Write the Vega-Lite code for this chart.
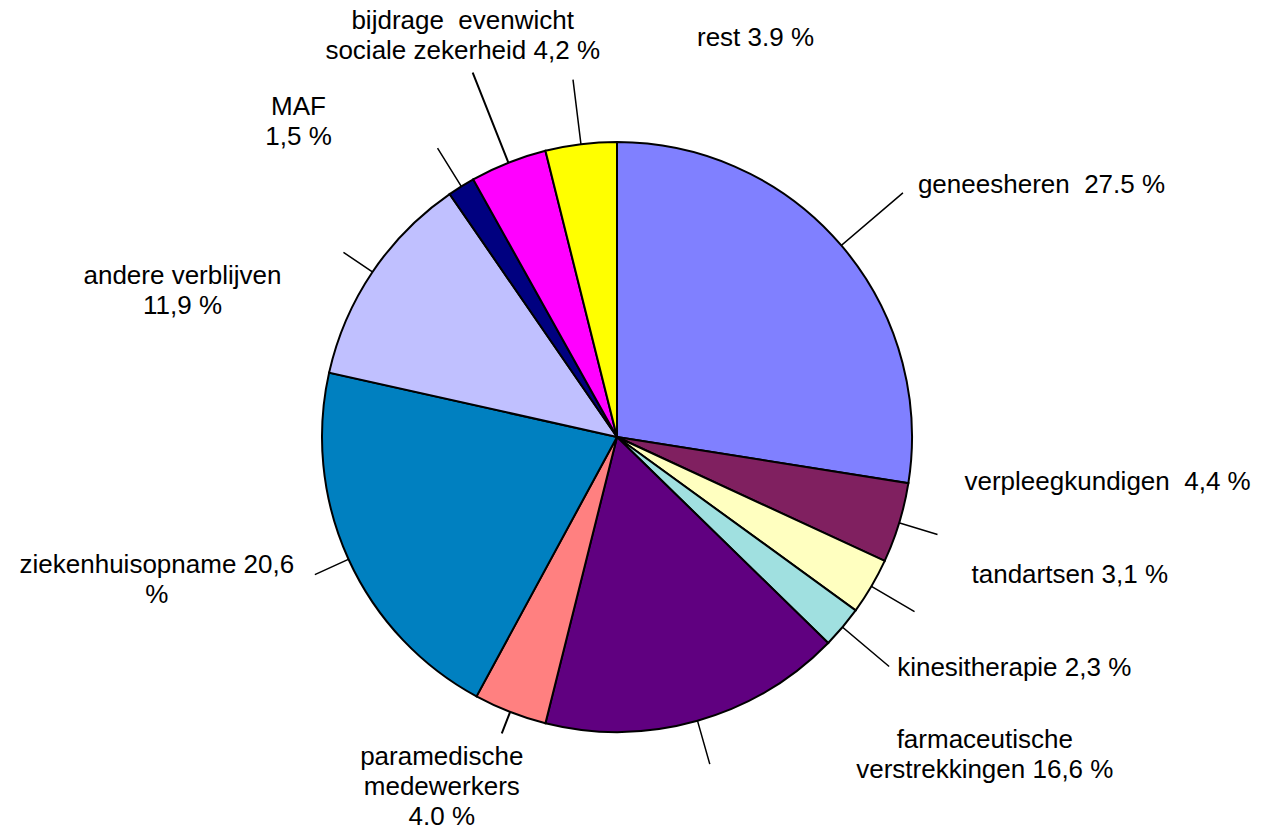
{
  "$schema": "https://vega.github.io/schema/vega-lite/v6.json",
  "width": 590,
  "height": 590,
  "autosize": {"type": "none"},
  "padding": {"left": 322, "top": 142, "right": 353, "bottom": 101},
  "background": "white",
  "config": {
    "view": {"stroke": null},
    "text": {"font": "Liberation Sans", "fontSize": 26, "lineHeight": 30, "lineBreak": "\n", "baseline": "alphabetic", "fill": "black"}
  },
  "data": {
    "values": [
      {"cat": "geneesheren", "value": 27.5, "order": 1, "label": "geneesheren\u00a0 27.5 %"},
      {"cat": "verpleegkundigen", "value": 4.4, "order": 2, "label": "verpleegkundigen\u00a0 4,4 %"},
      {"cat": "tandartsen", "value": 3.1, "order": 3, "label": "tandartsen 3,1 %"},
      {"cat": "kinesitherapie", "value": 2.3, "order": 4, "label": "kinesitherapie 2,3 %"},
      {"cat": "farmaceutische verstrekkingen", "value": 16.6, "order": 5, "label": "farmaceutische\nverstrekkingen 16,6 %"},
      {"cat": "paramedische medewerkers", "value": 4.0, "order": 6, "label": "paramedische\nmedewerkers\n4.0 %"},
      {"cat": "ziekenhuisopname", "value": 20.6, "order": 7, "label": "ziekenhuisopname 20,6\n%"},
      {"cat": "andere verblijven", "value": 11.9, "order": 8, "label": "andere verblijven\n11,9 %"},
      {"cat": "MAF", "value": 1.5, "order": 9, "label": "MAF\n1,5 %"},
      {"cat": "bijdrage evenwicht sociale zekerheid", "value": 4.2, "order": 10, "label": "bijdrage\u00a0 evenwicht\nsociale zekerheid 4,2 %"},
      {"cat": "rest", "value": 3.9, "order": 11, "label": "rest 3.9 %"}
    ]
  },
  "encoding": {
    "theta": {"field": "value", "type": "quantitative", "stack": true},
    "order": {"field": "order", "type": "quantitative"}
  },
  "layer": [
    {"mark": {"type": "arc", "radius": 376, "padAngle": 2, "fill": "transparent", "stroke": "black", "strokeWidth": 1.5},
     "encoding": {"strokeOpacity": {"condition": {"test": "datum.cat === 'geneesheren'", "value": 1}, "value": 0}}},
    {"mark": {"type": "arc", "radius": 335, "padAngle": 2, "fill": "transparent", "stroke": "black", "strokeWidth": 1.5},
     "encoding": {"strokeOpacity": {"condition": {"test": "datum.cat === 'verpleegkundigen'", "value": 1}, "value": 0}}},
    {"mark": {"type": "arc", "radius": 345, "padAngle": 2, "fill": "transparent", "stroke": "black", "strokeWidth": 1.5},
     "encoding": {"strokeOpacity": {"condition": {"test": "datum.cat === 'tandartsen'", "value": 1}, "value": 0}}},
    {"mark": {"type": "arc", "radius": 356, "padAngle": 2, "fill": "transparent", "stroke": "black", "strokeWidth": 1.5},
     "encoding": {"strokeOpacity": {"condition": {"test": "datum.cat === 'kinesitherapie'", "value": 1}, "value": 0}}},
    {"mark": {"type": "arc", "radius": 340, "padAngle": 2, "fill": "transparent", "stroke": "black", "strokeWidth": 1.5},
     "encoding": {"strokeOpacity": {"condition": {"test": "datum.cat === 'farmaceutische verstrekkingen'", "value": 1}, "value": 0}}},
    {"mark": {"type": "arc", "radius": 318, "padAngle": 2, "fill": "transparent", "stroke": "black", "strokeWidth": 2},
     "encoding": {"strokeOpacity": {"condition": {"test": "datum.cat === 'paramedische medewerkers'", "value": 1}, "value": 0}}},
    {"mark": {"type": "arc", "radius": 332, "padAngle": 2, "fill": "transparent", "stroke": "black", "strokeWidth": 1.5},
     "encoding": {"strokeOpacity": {"condition": {"test": "datum.cat === 'ziekenhuisopname'", "value": 1}, "value": 0}}},
    {"mark": {"type": "arc", "radius": 330, "padAngle": 2, "fill": "transparent", "stroke": "black", "strokeWidth": 1.5},
     "encoding": {"strokeOpacity": {"condition": {"test": "datum.cat === 'andere verblijven'", "value": 1}, "value": 0}}},
    {"mark": {"type": "arc", "radius": 340, "padAngle": 2, "fill": "transparent", "stroke": "black", "strokeWidth": 1.5},
     "encoding": {"strokeOpacity": {"condition": {"test": "datum.cat === 'MAF'", "value": 1}, "value": 0}}},
    {"mark": {"type": "arc", "radius": 392, "padAngle": 2, "fill": "transparent", "stroke": "black", "strokeWidth": 2},
     "encoding": {"strokeOpacity": {"condition": {"test": "datum.cat === 'bijdrage evenwicht sociale zekerheid'", "value": 1}, "value": 0}}},
    {"mark": {"type": "arc", "radius": 360, "padAngle": 2, "fill": "transparent", "stroke": "black", "strokeWidth": 1.5},
     "encoding": {"strokeOpacity": {"condition": {"test": "datum.cat === 'rest'", "value": 1}, "value": 0}}},
    {"mark": {"type": "arc", "stroke": "black", "strokeWidth": 2},
     "encoding": {"color": {"field": "cat", "type": "nominal", "legend": null,
       "scale": {"domain": ["geneesheren", "verpleegkundigen", "tandartsen", "kinesitherapie", "farmaceutische verstrekkingen", "paramedische medewerkers", "ziekenhuisopname", "andere verblijven", "MAF", "bijdrage evenwicht sociale zekerheid", "rest"],
                 "range": ["#8080FF", "#802060", "#FFFFC0", "#A0E0E0", "#600080", "#FF8080", "#0080C0", "#C0C0FF", "#000080", "#FF00FF", "#FFFF00"]}}}},
    {"mark": {"type": "text", "radius": 376, "align": "left", "dx": 15, "dy": 0},
     "encoding": {"text": {"condition": {"test": "datum.cat === 'geneesheren'", "field": "label"}, "value": ""}}},
    {"mark": {"type": "text", "radius": 335, "align": "left", "dx": 27, "dy": -44},
     "encoding": {"text": {"condition": {"test": "datum.cat === 'verpleegkundigen'", "field": "label"}, "value": ""}}},
    {"mark": {"type": "text", "radius": 345, "align": "left", "dx": 57, "dy": -29},
     "encoding": {"text": {"condition": {"test": "datum.cat === 'tandartsen'", "field": "label"}, "value": ""}}},
    {"mark": {"type": "text", "radius": 356, "align": "left", "dx": 8, "dy": 10},
     "encoding": {"text": {"condition": {"test": "datum.cat === 'kinesitherapie'", "field": "label"}, "value": ""}}},
    {"mark": {"type": "text", "radius": 340, "align": "center", "dx": 275, "dy": -16},
     "encoding": {"text": {"condition": {"test": "datum.cat === 'farmaceutische verstrekkingen'", "field": "label"}, "value": ""}}},
    {"mark": {"type": "text", "radius": 318, "align": "center", "dx": -60, "dy": 32},
     "encoding": {"text": {"condition": {"test": "datum.cat === 'paramedische medewerkers'", "field": "label"}, "value": ""}}},
    {"mark": {"type": "text", "radius": 332, "align": "center", "dx": -158, "dy": -2},
     "encoding": {"text": {"condition": {"test": "datum.cat === 'ziekenhuisopname'", "field": "label"}, "value": ""}}},
    {"mark": {"type": "text", "radius": 330, "align": "center", "dx": -161, "dy": 32},
     "encoding": {"text": {"condition": {"test": "datum.cat === 'andere verblijven'", "field": "label"}, "value": ""}}},
    {"mark": {"type": "text", "radius": 340, "align": "center", "dx": -139, "dy": -33},
     "encoding": {"text": {"condition": {"test": "datum.cat === 'MAF'", "field": "label"}, "value": ""}}},
    {"mark": {"type": "text", "radius": 392, "align": "center", "dx": -10, "dy": -44},
     "encoding": {"text": {"condition": {"test": "datum.cat === 'bijdrage evenwicht sociale zekerheid'", "field": "label"}, "value": ""}}},
    {"mark": {"type": "text", "radius": 360, "align": "left", "dx": 124, "dy": -34},
     "encoding": {"text": {"condition": {"test": "datum.cat === 'rest'", "field": "label"}, "value": ""}}}
  ]
}
